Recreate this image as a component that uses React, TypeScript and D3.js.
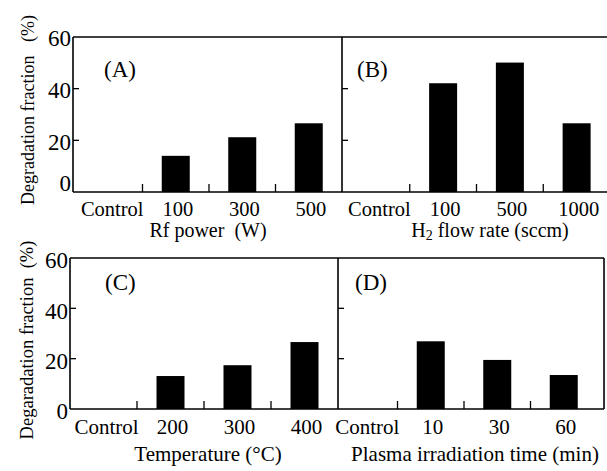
import React from "react";
import * as d3 from "d3";

const catsA = ["Control", "100", "300", "500"];
const valsA = [0, 14, 21.2, 26.6];
const catsB = ["Control", "100", "500", "1000"];
const valsB = [0, 42.1, 50.1, 26.6];
const catsC = ["Control", "200", "300", "400"];
const valsC = [0, 13.1, 17.4, 26.6];
const catsD = ["Control", "10", "30", "60"];
const valsD = [0, 26.9, 19.5, 13.5];
const yTicks = [0, 20, 40, 60];

const FONT = "'Liberation Serif', 'Times New Roman', serif";

type PanelProps = {
  cats: string[];
  vals: number[];
  x0: number;
  bandRange: [number, number];
  y: d3.ScaleLinear<number, number>;
  label: string;
  labelX: number;
  labelY: number;
  tickBaseline: number;
  tickFont: number;
};

function Panel(p: PanelProps) {
  const x = d3.scaleBand<string>().domain(p.cats).range(p.bandRange);
  const bw = 28;
  const y0 = p.y(0);
  const bounds = p.cats.slice(1).map((c) => x(c) as number);
  return (
    <g>
      {p.cats.map((c, i) => {
        const cx = (x(c) as number) + x.bandwidth() / 2;
        const v = p.vals[i];
        return v > 0 ? (
          <rect key={c} x={cx - bw / 2} y={p.y(v)} width={bw} height={y0 - p.y(v)} fill="#000" />
        ) : null;
      })}
      {bounds.map((bx, i) => (
        <line key={"t" + i} x1={bx} x2={bx} y1={y0} y2={y0 - 8} stroke="#000" strokeWidth={1.3} />
      ))}
      {[20, 40].map((t) => (
        <line key={"y" + t} x1={p.x0} x2={p.x0 + 6} y1={p.y(t)} y2={p.y(t)} stroke="#000" strokeWidth={1.3} />
      ))}
      {p.cats.map((c) => {
        const cx = (x(c) as number) + x.bandwidth() / 2;
        return (
          <text key={"l" + c} x={cx + (c === "Control" ? 3 : 2)} y={p.tickBaseline} textAnchor="middle" fontSize={p.tickFont} fontFamily={FONT}>
            {c}
          </text>
        );
      })}
      <text x={p.labelX} y={p.labelY} fontSize={23} fontFamily={FONT}>
        {p.label}
      </text>
    </g>
  );
}

export default function App() {
  const yTop = d3.scaleLinear().domain([0, 60]).range([192, 37]);
  const yBot = d3.scaleLinear().domain([0, 60]).range([409, 258]);
  const sw = 1.6;
  return (
    <svg width={607} height={471} style={{ position: "absolute", left: 0, top: 0, background: "#fff" }}>
      <rect x={0} y={0} width={607} height={471} fill="#fff" />
      <g fill="none" stroke="#000" strokeWidth={sw}>
        <line x1={73} x2={610} y1={37} y2={37} />
        <line x1={73} x2={610} y1={192} y2={192} />
        <line x1={73} x2={73} y1={37} y2={192} />
        <line x1={342} x2={342} y1={37} y2={192} />
        <line x1={70} x2={604} y1={258} y2={258} />
        <line x1={70} x2={604} y1={409} y2={409} />
        <line x1={70} x2={70} y1={258} y2={409} />
        <line x1={338} x2={338} y1={258} y2={409} />
        <line x1={604} x2={604} y1={258} y2={409} />
      </g>
      <Panel cats={catsA} vals={valsA} x0={73} bandRange={[76, 342]} y={yTop} label="(A)" labelX={104} labelY={77} tickBaseline={216} tickFont={20.5} />
      <Panel cats={catsB} vals={valsB} x0={342} bandRange={[343, 610]} y={yTop} label="(B)" labelX={357} labelY={77} tickBaseline={216} tickFont={20.5} />
      <Panel cats={catsC} vals={valsC} x0={70} bandRange={[70, 338]} y={yBot} label="(C)" labelX={105} labelY={290} tickBaseline={434} tickFont={21} />
      <Panel cats={catsD} vals={valsD} x0={338} bandRange={[331, 597]} y={yBot} label="(D)" labelX={355} labelY={290} tickBaseline={434} tickFont={21} />
      {yTicks.map((t) => (
        <text key={"yt" + t} x={71} y={yTop(t) + (t === 0 ? -6 : 4)} dominantBaseline="middle" textAnchor="end" fontSize={23} fontFamily={FONT}>
          {t}
        </text>
      ))}
      {yTicks.map((t) => (
        <text key={"yb" + t} x={68} y={yBot(t) + 5} dominantBaseline="middle" textAnchor="end" fontSize={23} fontFamily={FONT}>
          {t}
        </text>
      ))}
      <text transform="translate(34,110) rotate(-90)" textAnchor="middle" fontSize={18} fontFamily={FONT} style={{ whiteSpace: "pre" }}>
        {"Degradation fraction   (%)"}
      </text>
      <text transform="translate(33,340) rotate(-90)" textAnchor="middle" fontSize={18.5} fontFamily={FONT} style={{ whiteSpace: "pre" }}>
        {"Degaradation fraction  (%)"}
      </text>
      <text x={208} y={237} textAnchor="middle" fontSize={20} fontFamily={FONT} style={{ whiteSpace: "pre" }}>
        {"Rf power  (W)"}
      </text>
      <text x={490} y={237} textAnchor="middle" fontSize={20} fontFamily={FONT}>
        H<tspan fontSize={14} dy={3}>2</tspan>
        <tspan dy={-3}> flow rate (sccm)</tspan>
      </text>
      <text x={208} y={461} textAnchor="middle" fontSize={21} fontFamily={FONT}>
        Temperature (°C)
      </text>
      <text x={475} y={461} textAnchor="middle" fontSize={21} fontFamily={FONT}>
        Plasma irradiation time (min)
      </text>
    </svg>
  );
}
